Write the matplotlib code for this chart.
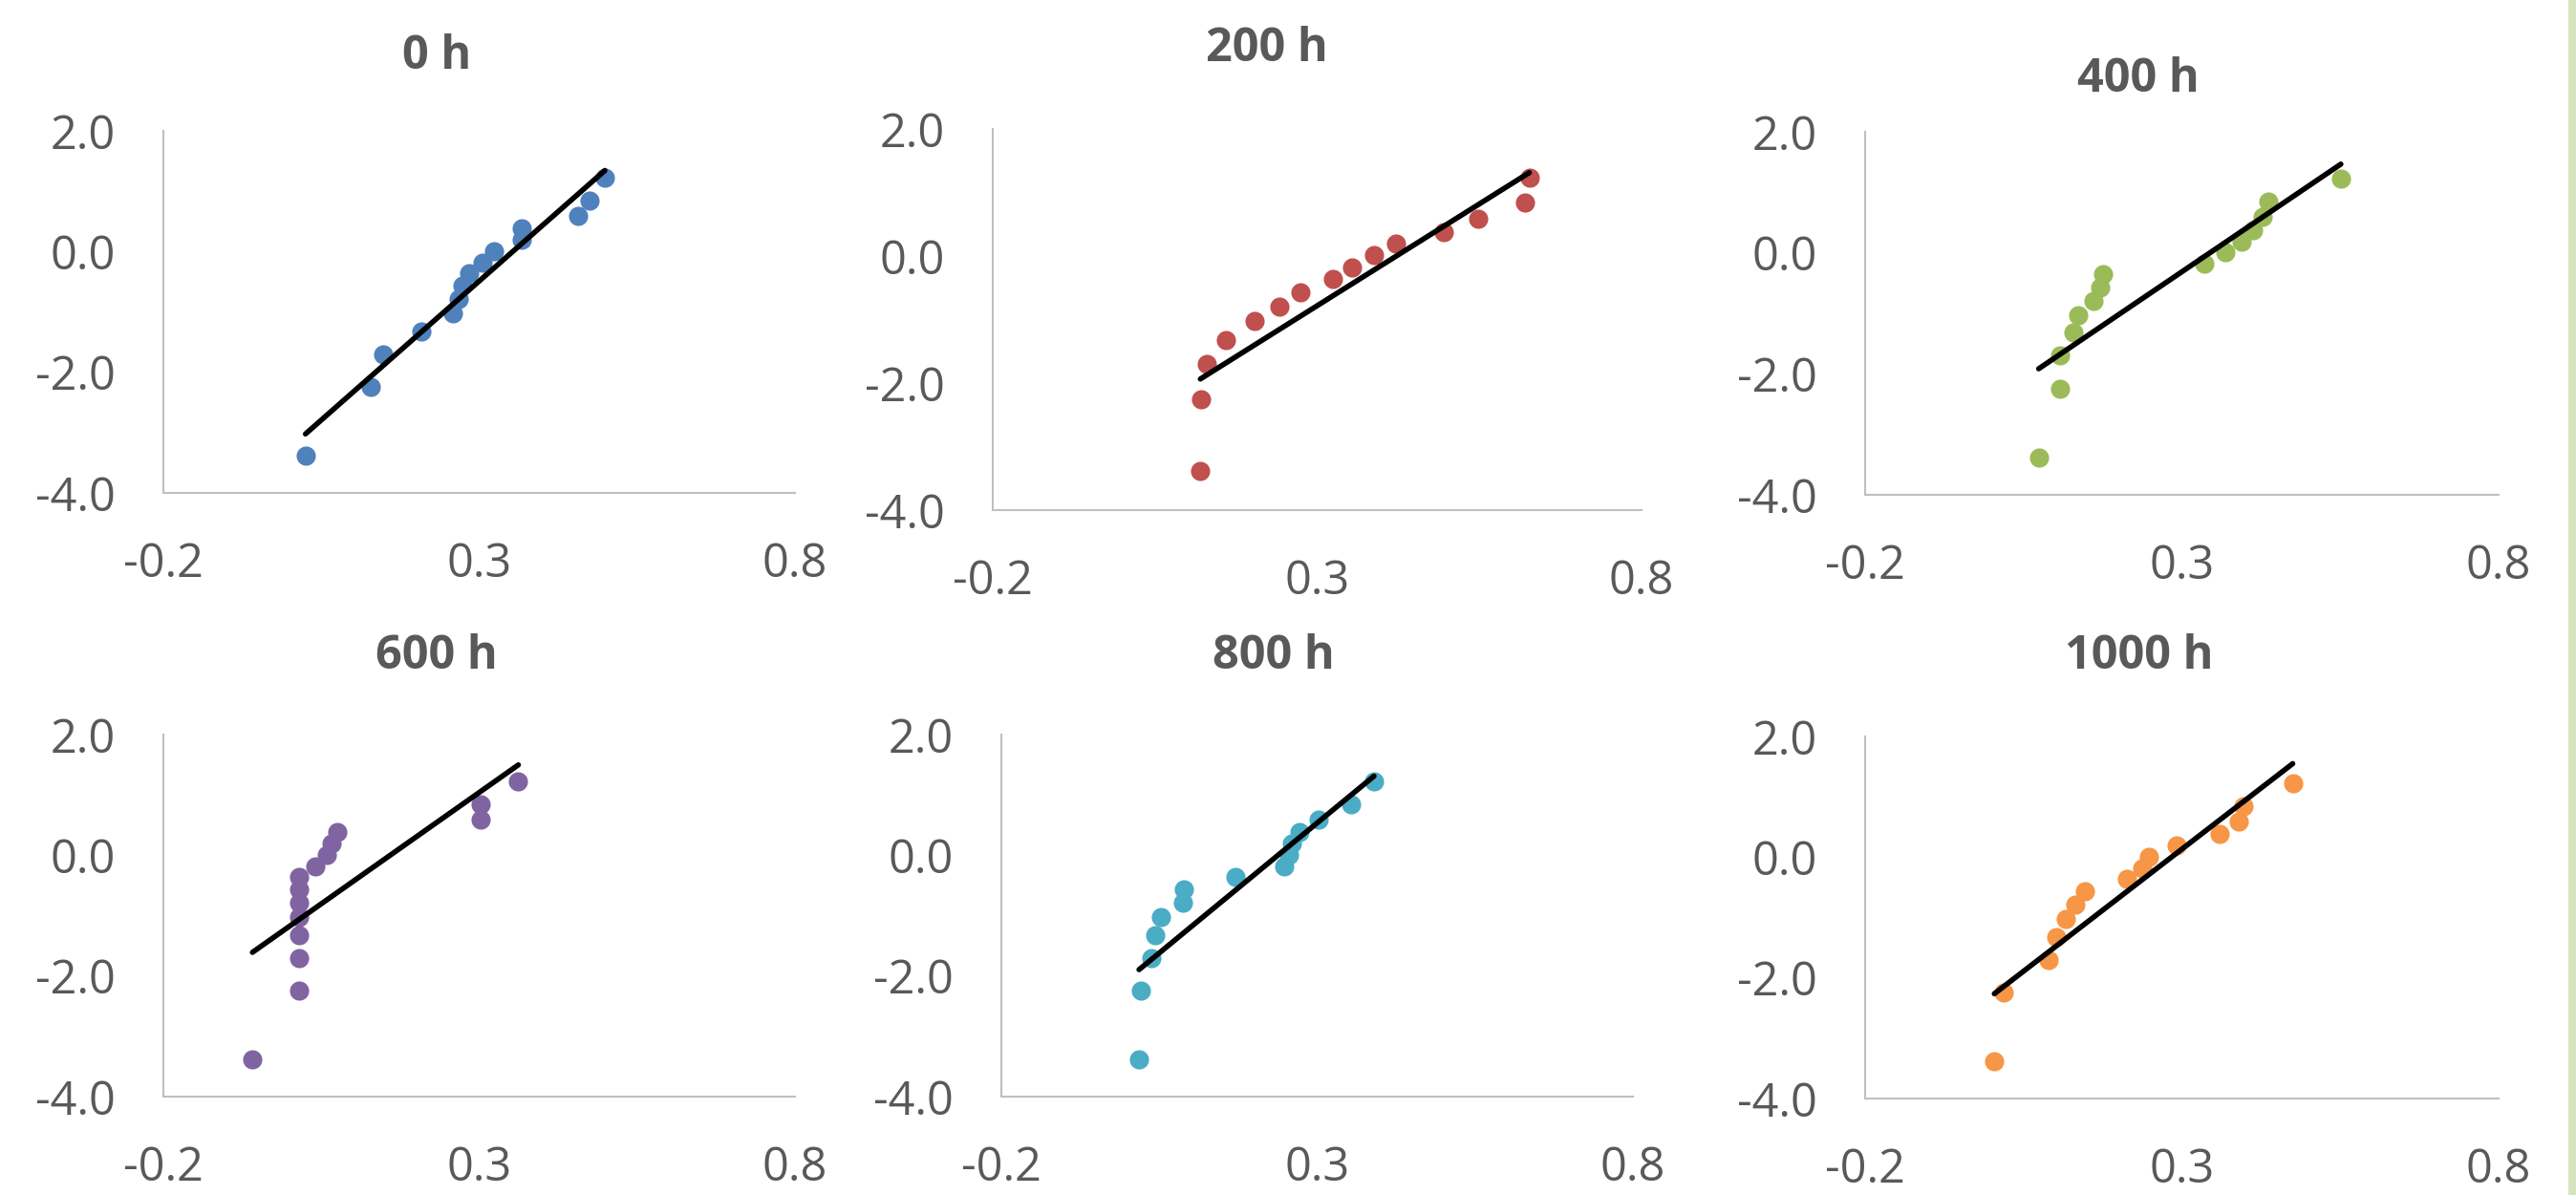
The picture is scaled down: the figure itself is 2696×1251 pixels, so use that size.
import numpy as np
import matplotlib.pyplot as plt
from matplotlib.patches import Rectangle

# Weibull-style probability plot data
y_rank = [-3.39, -2.25, -1.70, -1.32, -1.03, -0.79, -0.57, -0.36, -0.18, 0.01, 0.19, 0.38, 0.59, 0.84, 1.23]

x_0h = [0.025, 0.129, 0.148, 0.209, 0.259, 0.267, 0.274, 0.284, 0.306, 0.323, 0.368, 0.368, 0.457, 0.475, 0.499]
x_200h = [0.120, 0.121, 0.130, 0.160, 0.204, 0.242, 0.274, 0.324, 0.354, 0.387, 0.422, 0.495, 0.548, 0.621, 0.627]
x_400h = [0.074, 0.107, 0.107, 0.129, 0.136, 0.161, 0.171, 0.175, 0.335, 0.369, 0.395, 0.412, 0.427, 0.437, 0.551]
x_600h = [-0.059, 0.015, 0.015, 0.015, 0.015, 0.015, 0.015, 0.015, 0.041, 0.058, 0.067, 0.076, 0.302, 0.302, 0.362]
x_800h = [0.018, 0.021, 0.037, 0.043, 0.053, 0.087, 0.089, 0.170, 0.248, 0.255, 0.260, 0.272, 0.303, 0.354, 0.390]
x_1000h = [0.004, 0.019, 0.090, 0.102, 0.117, 0.132, 0.147, 0.213, 0.238, 0.248, 0.291, 0.359, 0.389, 0.398, 0.475]

titles = ["0 h", "200 h", "400 h", "600 h", "800 h", "1000 h"]
series = [x_0h, x_200h, x_400h, x_600h, x_800h, x_1000h]
colors = ["#4F81BD", "#C0504D", "#9BBB59", "#8064A2", "#4BACC6", "#F79646"]

xticks = [-0.2, 0.3, 0.8]
yticks = [-4.0, -2.0, 0.0, 2.0]

W, H = 2696, 1251
# axes boxes in pixels: left, right, top, bottom
boxes = [
    (171, 832, 137, 516),
    (1039, 1718, 135, 534),
    (1952, 2615, 138, 518),
    (171, 832, 769, 1148),
    (1048, 1709, 769, 1148),
    (1952, 2615, 771, 1150),
]
title_pos = [(457, 59), (1326, 52), (2238, 83), (457, 688), (1333, 688), (2239, 688)]

grey = "#595959"
plt.rcParams['font.family'] = ['Open Sans', 'DejaVu Sans']

fig = plt.figure(figsize=(W / 100, H / 100), dpi=100)

for i in range(6):
    l, r, t, b = boxes[i]
    ax = fig.add_axes([l / W, 1 - b / H, (r - l) / W, (b - t) / H])
    x = np.array(series[i])
    y = np.array(y_rank)
    ax.scatter(x, y, s=210, color=colors[i], linewidths=0, zorder=2)

    # linear trendline over the data range
    k, c = np.polyfit(x, y, 1)
    xl = np.array([x.min(), x.max()])
    ax.plot(xl, k * xl + c, color="black", lw=4, solid_capstyle="round", zorder=3)

    ax.set_xlim(-0.2, 0.8)
    ax.set_ylim(-4.0, 2.0)
    ax.set_xticks(xticks, [f"{v:.1f}" for v in xticks])
    ax.set_yticks(yticks, [f"{v:.1f}" for v in yticks])
    ax.tick_params(length=0, labelsize=35, labelcolor=grey)
    ax.tick_params(axis="y", pad=36)
    ax.tick_params(axis="x", pad=36)
    for s in ["top", "right"]:
        ax.spines[s].set_visible(False)
    for s in ["left", "bottom"]:
        ax.spines[s].set_color("#BFBFBF")
        ax.spines[s].set_linewidth(1.5)
    ax.patch.set_alpha(0)

    tx, ty = title_pos[i]
    fig.text(tx / W, 1 - ty / H, titles[i], ha="center", va="center",
             fontsize=35, fontweight="bold", color=grey)

# pale green strip on the right edge
fig.patches.append(Rectangle((2688 / W, 0), 1 - 2688 / W, 1, transform=fig.transFigure,
                             facecolor="#D7E4BD", edgecolor="none"))

fig.savefig("out.png", dpi=100)
